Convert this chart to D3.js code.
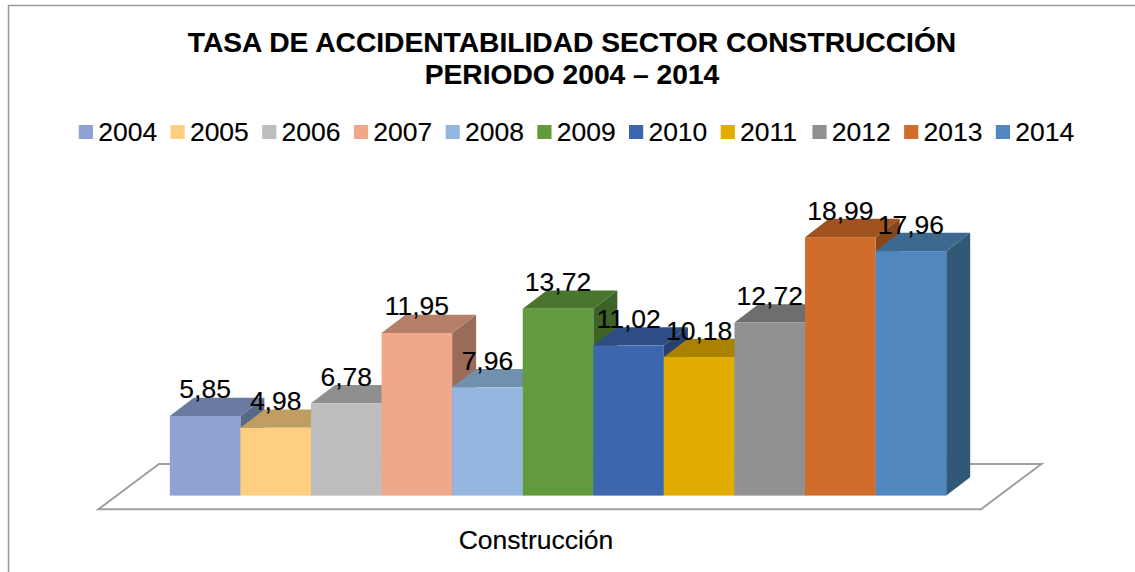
<!DOCTYPE html>
<html><head><meta charset="utf-8">
<script src="https://cdn.jsdelivr.net/npm/d3@7"></script>
<style>html,body{margin:0;padding:0;background:#fff}svg{display:block}text{font-family:"Liberation Sans",Arial,sans-serif;fill:#000;stroke:#000;stroke-width:.15px}</style>
</head><body><svg id="c" width="1135" height="572"></svg>
<script>
const titleLines = ["TASA DE ACCIDENTABILIDAD SECTOR CONSTRUCCIÓN", "PERIODO 2004 – 2014"];
const years = ["2004","2005","2006","2007","2008","2009","2010","2011","2012","2013","2014"];
const values = [5.85,4.98,6.78,11.95,7.96,13.72,11.02,10.18,12.72,18.99,17.96];
const labels = ["5,85","4,98","6,78","11,95","7,96","13,72","11,02","10,18","12,72","18,99","17,96"];
const colors = ["#8fa2d4","#ffcf81","#bdbdbd","#f1a78a","#95b6df","#629b3e","#3c66ae","#e2ac00","#919191","#d16d2a","#5087bf"];
const topColors = ["#6a7aa0","#c09e62","#8f8f8f","#b57f69","#7190ae","#4a752f","#2d4d84","#aa8200","#6e6e6e","#9e5320","#3d6991"];
const sideColors = ["#5a6888","#a38652","#797979","#9a6b58","#5f7a93","#3e6327","#264170","#906e00","#5d5d5d","#864619","#315876"];
const category = "Construcción";

const svg = d3.select("#c");
const depthX = 24, depthY = 18.3;
const x = d3.scaleBand().domain(years).range([169.8, 946.2]).padding(0);
const y = d3.scaleLinear().domain([0, 20]).range([495.6, 223.4]);
const line = d3.line();

// outer frame
svg.append("path").attr("d", line([[8.5,572],[8.5,5.5],[1135,5.5]]))
  .attr("fill","none").attr("stroke","#999").attr("stroke-width",1.5);

// floor
svg.append("path").attr("d", line([[98.4,509.3],[159,464],[1041.5,464],[981,509.3]])+"Z")
  .attr("fill","#fff").attr("stroke","#a0a0a0").attr("stroke-width",2).attr("stroke-linejoin","miter");

// bars
const bars = svg.append("g").selectAll("g").data(years).join("g");
bars.append("path").attr("fill",(d,i)=>sideColors[i]).attr("d",(d,i)=>{
  const r=x(d)+x.bandwidth(), t=y(values[i]), b=y(0);
  return line([[r,t],[r+depthX,t-depthY],[r+depthX,b-depthY],[r,b]])+"Z";
});
bars.append("path").attr("fill",(d,i)=>topColors[i]).attr("d",(d,i)=>{
  const l=x(d), r=l+x.bandwidth(), t=y(values[i]);
  return line([[l,t],[r,t],[r+depthX,t-depthY],[l+depthX,t-depthY]])+"Z";
});
bars.append("rect").attr("fill",(d,i)=>colors[i])
  .attr("x",d=>x(d)).attr("width",x.bandwidth())
  .attr("y",(d,i)=>y(values[i])).attr("height",(d,i)=>y(0)-y(values[i]));

// data labels
svg.append("g").selectAll("text").data(years).join("text")
  .attr("x",d=>x(d)+x.bandwidth()/2).attr("y",(d,i)=>y(values[i])-17.5)
  .attr("text-anchor","middle").attr("font-size",26.5).text((d,i)=>labels[i]);

// title
svg.append("g").selectAll("text").data(titleLines).join("text")
  .attr("x",572).attr("y",(d,i)=>52+i*32).attr("text-anchor","middle")
  .attr("font-size",28.2).attr("font-weight","bold").text(d=>d);

// legend
const lx = d3.scaleBand().domain(years).range([78.8, 78.8+91.7*11]);
const leg = svg.append("g").selectAll("g").data(years).join("g");
leg.append("rect").attr("x",d=>lx(d)).attr("y",125).attr("width",14.2).attr("height",14).attr("fill",(d,i)=>colors[i]);
leg.append("text").attr("x",d=>lx(d)+19.4).attr("y",141).attr("font-size",26.5).text(d=>d);

// category axis label
svg.append("text").attr("x",536).attr("y",548.5).attr("text-anchor","middle").attr("font-size",26.5).text(category);
</script></body></html>
